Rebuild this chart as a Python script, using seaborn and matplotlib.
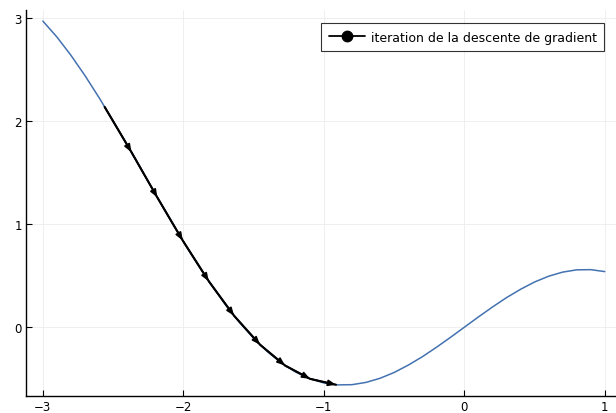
import matplotlib
matplotlib.use("Agg")
import matplotlib.pyplot as plt
from matplotlib.lines import Line2D
import seaborn as sns
import pandas as pd

# f(x) = x*cos(x) sampled on [-3, 1]
curve_x = [-3.0, -2.9, -2.8, -2.7, -2.6, -2.5, -2.4, -2.3, -2.2, -2.1, -2.0,
           -1.9, -1.8, -1.7, -1.6, -1.5, -1.4, -1.3, -1.2, -1.1, -1.0,
           -0.9, -0.8, -0.7, -0.6, -0.5, -0.4, -0.3, -0.2, -0.1, 0.0,
           0.1, 0.2, 0.3, 0.4, 0.5, 0.6, 0.7, 0.8, 0.9, 1.0]
curve_y = [2.970, 2.816, 2.638, 2.441, 2.228, 2.003, 1.770, 1.532, 1.295, 1.060, 0.832,
           0.614, 0.409, 0.219, 0.047, -0.106, -0.238, -0.348, -0.435, -0.499, -0.540,
           -0.559, -0.557, -0.535, -0.495, -0.439, -0.368, -0.287, -0.196, -0.0995, 0.0,
           0.0995, 0.196, 0.287, 0.368, 0.439, 0.495, 0.535, 0.557, 0.559, 0.540]

# gradient descent iterates
iter_x = [-2.56, -2.369, -2.185, -2.004, -1.819, -1.639, -1.454, -1.276, -1.098, -0.913]
iter_y = [2.137, 1.698, 1.259, 0.841, 0.447, 0.112, -0.169, -0.371, -0.500, -0.558]

x_ticks = [-3, -2, -1, 0, 1]
y_ticks = [0, 1, 2, 3]
legend_label = "iteration de la descente de gradient"

sns.set_theme(style="white")
plt.rcParams["font.family"] = ["DejaVu Sans"]

fig = plt.figure(figsize=(6.16, 4.14), dpi=100)
ax = fig.add_axes([0.0422, 0.041, 0.9578, 0.932])

curve = pd.DataFrame({"x": curve_x, "y": curve_y})
iters = pd.DataFrame({"x": iter_x, "y": iter_y})

sns.lineplot(data=curve, x="x", y="y", color="#4472b0", lw=1.1, ax=ax,
             sort=False, legend=False, zorder=2)
sns.lineplot(data=iters, x="x", y="y", color="black", lw=1.5, ax=ax,
             sort=False, legend=False, zorder=3)

# arrow head at the end of each descent step
for i in range(len(iter_x) - 1):
    ax.annotate("", xy=(iter_x[i + 1], iter_y[i + 1]), xytext=(iter_x[i], iter_y[i]),
                arrowprops=dict(arrowstyle="-|>,head_length=0.38,head_width=0.15",
                                color="black", lw=1.2, shrinkA=0, shrinkB=0),
                zorder=4)

ax.set_xlim(-3.12, 1.08)
ax.set_ylim(-0.667, 3.076)
ax.set_xticks(x_ticks)
ax.set_yticks(y_ticks)
ax.set_xticklabels([f"{t}".replace("-", "\u2212") for t in x_ticks])
ax.set_yticklabels([f"{t}" for t in y_ticks])
ax.set_xlabel("")
ax.set_ylabel("")

ax.grid(True, color="#ececec", lw=0.6)
ax.set_axisbelow(True)
for side in ["top", "right"]:
    ax.spines[side].set_visible(False)
for side in ["left", "bottom"]:
    ax.spines[side].set_color("black")
    ax.spines[side].set_linewidth(1.0)

ax.tick_params(axis="both", direction="in", length=4, width=0.8, colors="black",
               labelsize=8.5, pad=3, left=True, bottom=True)

handle = Line2D([0], [0], color="black", lw=1.3, marker="o", markersize=7.5)
leg = ax.legend([handle], [legend_label], loc="upper right", fontsize=9,
                frameon=True, fancybox=False, borderpad=0.6, handlelength=2.9,
                handletextpad=0.45, borderaxespad=0, bbox_to_anchor=(0.98, 0.966))
leg.get_frame().set_edgecolor("black")
leg.get_frame().set_linewidth(0.8)
for t in leg.get_texts():
    t.set_color("black")

fig.savefig("out.png", dpi=100)
